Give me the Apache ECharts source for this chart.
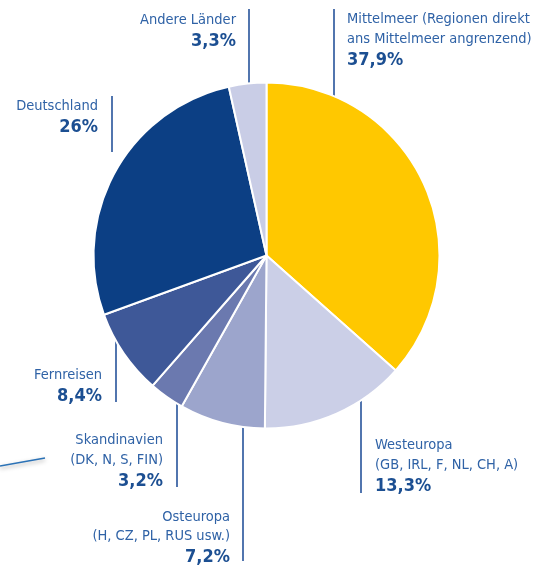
<!DOCTYPE html>
<html>
<head>
<meta charset="utf-8">
<script src="https://cdn.jsdelivr.net/npm/echarts@6/dist/echarts.min.js"></script>
<style>
  html, body { margin: 0; padding: 0; background: #fff; }
  #chart { width: 538px; height: 567px; }
</style>
</head>
<body>
<div id="chart"></div>
<script>
// Reiseziele (im Uhrzeigersinn ab 12 Uhr)
const regions = [
  'Mittelmeer (Regionen direkt\nans Mittelmeer angrenzend)',
  'Westeuropa\n(GB, IRL, F, NL, CH, A)',
  'Osteuropa\n(H, CZ, PL, RUS usw.)',
  'Skandinavien\n(DK, N, S, FIN)',
  'Fernreisen',
  'Deutschland',
  'Andere Länder'
]
// gedruckte Anteile
const shareLabels = ['37,9%', '13,3%', '7,2%', '3,2%', '8,4%', '26%', '3,3%']
// Segmentgroessen, wie sie in der Vorlage gezeichnet sind (Prozent)
const sliceShares = [36.6, 13.6, 8.0, 3.3, 8.0, 27.1, 3.5]
const sliceColors = ['#ffc800', '#cbcfe7', '#9ca5cc', '#6b79af', '#3e5898', '#0c3f84', '#c9cde6']

// Lage der Beschriftungen: Linie x, Linie oben/unten, Textseite, Textabstand, Text oben
const labelPos = [
  { lx: 334, y1: 9, y2: 104, side: 'right', gap: 13, top: 9.5 },
  { lx: 361, y1: 384, y2: 493, side: 'right', gap: 14, top: 435.5 },
  { lx: 243, y1: 412, y2: 561, side: 'left', gap: 13, top: 507 },
  { lx: 177, y1: 385, y2: 487, side: 'left', gap: 14, top: 430.5 },
  { lx: 116, y1: 326, y2: 402, side: 'left', gap: 14, top: 365.5 },
  { lx: 112, y1: 96, y2: 152, side: 'left', gap: 14, top: 96 },
  { lx: 249, y1: 9, y2: 98, side: 'left', gap: 13, top: 10 }
]

const nameColor = '#2f62a6'
const valueColor = '#1c4f92'
const lineColor = '#3f66a6'
const fontFam = '"DejaVu Sans Condensed", "Liberation Sans Narrow", sans-serif'

const chart = echarts.init(document.getElementById('chart'))

chart.setOption({
  animation: false,
  graphic: [
    {
      type: 'line',
      shape: { x1: 0, y1: 466, x2: 45, y2: 458 },
      style: { stroke: '#2b72b6', lineWidth: 1.5, shadowBlur: 4, shadowColor: 'rgba(0,0,0,0.35)', shadowOffsetY: 2 }
    }
  ],
  series: [
    {
      type: 'pie',
      center: [266.5, 255.5],
      radius: 173,
      startAngle: 90,
      clockwise: true,
      avoidLabelOverlap: false,
      itemStyle: { borderColor: '#fff', borderWidth: 2 },
      label: {
        show: true,
        fontFamily: fontFam,
        formatter: p => {
          const lines = p.name.split('\n').map(s => '{n|' + s + '}')
          return lines.join('\n') + '\n{v|' + shareLabels[p.dataIndex] + '}'
        },
        rich: {
          n: { fontFamily: fontFam, fontSize: 14.5, lineHeight: 19.5, color: nameColor },
          v: { fontFamily: fontFam, fontSize: 18, fontWeight: 'bold', lineHeight: 23, color: valueColor }
        }
      },
      labelLine: { show: true, lineStyle: { color: lineColor, width: 1.8 } },
      labelLayout: params => {
        const pos = labelPos[params.dataIndex]
        const right = pos.side === 'right'
        return {
          x: right ? pos.lx + pos.gap : pos.lx - pos.gap,
          y: pos.top,
          align: right ? 'left' : 'right',
          verticalAlign: 'top',
          labelLinePoints: [[pos.lx, pos.y1], [pos.lx, (pos.y1 + pos.y2) / 2], [pos.lx, pos.y2]]
        }
      },
      emphasis: { disabled: true },
      data: regions.map((name, i) => ({
        name: name,
        value: sliceShares[i],
        itemStyle: { color: sliceColors[i] }
      }))
    }
  ]
})
</script>
</body>
</html>
